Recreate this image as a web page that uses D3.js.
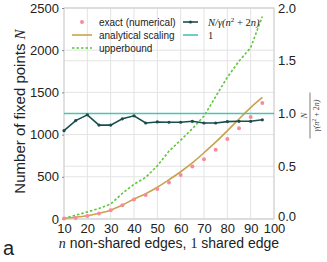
<!DOCTYPE html>
<html>
<head>
<meta charset="utf-8">
<script src="https://cdn.jsdelivr.net/npm/d3@7"></script>
<style>
  body { margin: 0; background: #fff; }
  text { font-family: "Liberation Sans", Arial, sans-serif; }
  .math { font-family: "Liberation Serif", "DejaVu Serif", serif; font-style: italic; }
</style>
</head>
<body>
<div id="plot"></div>
<script>
const margin = { top: 8, right: 53, bottom: 43, left: 64 };
const width = 327 - margin.left - margin.right;
const height = 262 - margin.top - margin.bottom;

// n non-shared edges
const nValues = [10, 15, 20, 25, 30, 35, 40, 45, 50, 55, 60, 65, 70, 75, 80, 85, 90, 95];
const exact = [5, 12, 36, 64, 104, 164, 232, 285, 355, 432, 521, 621, 709, 821, 948, 1074, 1210, 1374];
const analytical = [8, 20, 38, 68, 105, 165, 237, 300, 376, 465, 560, 665, 785, 910, 1045, 1185, 1320, 1440];
const upperbound = [5, 45, 84, 125, 177, 304, 412, 493, 630, 805, 934, 1070, 1220, 1450, 1680, 1870, 2030, 2400];
const ratio = [0.837, 0.933, 0.987, 0.89, 0.89, 0.95, 0.978, 0.91, 0.92, 0.917, 0.917, 0.926, 0.91, 0.91, 0.923, 0.926, 0.926, 0.94];

const xTicks = [10, 20, 30, 40, 50, 60, 70, 80, 90, 100];
const yTicks = [0, 500, 1000, 1500, 2000, 2500];
const y2Ticks = [0, 0.5, 1.0, 1.5, 2.0];

const colors = {
  exact: "#f98a9e",
  analytical: "#c9a24f",
  upper: "#5cc63a",
  ratio: "#184e4e",
  one: "#4cc3b3"
};

const x = d3.scaleLinear().domain([10, 100]).range([0, width]);
const y = d3.scaleLinear().domain([0, 2500]).range([height, 0]);
const y2 = d3.scaleLinear().domain([0, 2]).range([height, 0]);

const svg = d3.select("#plot")
  .append("svg")
  .attr("width", width + margin.left + margin.right)
  .attr("height", height + margin.top + margin.bottom);

const g = svg.append("g")
  .attr("transform", `translate(${margin.left},${margin.top})`);

// grid from both axes
g.append("g")
  .selectAll("line")
  .data(xTicks)
  .join("line")
  .attr("x1", d => x(d)).attr("x2", d => x(d))
  .attr("y1", 0).attr("y2", height)
  .attr("stroke", "#e3e3e3").attr("stroke-width", 1);

g.append("g")
  .selectAll("line")
  .data(yTicks)
  .join("line")
  .attr("x1", 0).attr("x2", width)
  .attr("y1", d => y(d)).attr("y2", d => y(d))
  .attr("stroke", "#e3e3e3").attr("stroke-width", 1);

g.append("g")
  .selectAll("line")
  .data(y2Ticks)
  .join("line")
  .attr("x1", 0).attr("x2", width)
  .attr("y1", d => y2(d)).attr("y2", d => y2(d))
  .attr("stroke", "#e3e3e3").attr("stroke-width", 1);

// frame
g.append("rect")
  .attr("width", width).attr("height", height)
  .attr("fill", "none").attr("stroke", "#cfcfcf").attr("stroke-width", 1);

// axes
const xAxis = g.append("g")
  .attr("transform", `translate(0,${height})`)
  .call(d3.axisBottom(x).tickValues(xTicks).tickSize(0).tickPadding(5));
const yAxis = g.append("g")
  .call(d3.axisLeft(y).tickValues(yTicks).tickFormat(d3.format("d")).tickSize(2).tickPadding(3));
const y2Axis = g.append("g")
  .attr("transform", `translate(${width},0)`)
  .call(d3.axisRight(y2).tickValues(y2Ticks).tickFormat(d3.format(".1f")).tickSize(0).tickPadding(4));

[xAxis, yAxis, y2Axis].forEach(a => {
  a.select(".domain").remove();
  a.selectAll(".tick line").attr("stroke", "#888");
  a.selectAll("text")
    .attr("fill", "#222")
    .style("font-size", "13px")
    .style("font-family", "'Liberation Sans', Arial, sans-serif");
});
// the 0.0 label sits a little above the corner, over the "100"
y2Axis.selectAll(".tick text").filter(d => d === 0).attr("dy", "0.1em");

// lines
g.append("path")
  .datum(upperbound)
  .attr("fill", "none")
  .attr("stroke", colors.upper)
  .attr("stroke-width", 1.6)
  .attr("stroke-dasharray", "2.5,2")
  .attr("d", d3.line().x((d, i) => x(nValues[i])).y(d => y(d)));

g.append("path")
  .datum(analytical)
  .attr("fill", "none")
  .attr("stroke", colors.analytical)
  .attr("stroke-width", 1.6)
  .attr("d", d3.line().curve(d3.curveMonotoneX).x((d, i) => x(nValues[i])).y(d => y(d)));

g.append("g")
  .selectAll("circle")
  .data(exact)
  .join("circle")
  .attr("cx", (d, i) => x(nValues[i]))
  .attr("cy", d => y(d))
  .attr("r", 2)
  .attr("fill", colors.exact);

g.append("line")
  .attr("x1", 0).attr("x2", width)
  .attr("y1", y2(1)).attr("y2", y2(1))
  .attr("stroke", colors.one).attr("stroke-width", 1.6);

g.append("path")
  .datum(ratio)
  .attr("fill", "none")
  .attr("stroke", colors.ratio)
  .attr("stroke-width", 1.6)
  .attr("d", d3.line().x((d, i) => x(nValues[i])).y(d => y2(d)));

g.append("g")
  .selectAll("circle")
  .data(ratio)
  .join("circle")
  .attr("cx", (d, i) => x(nValues[i]))
  .attr("cy", d => y2(d))
  .attr("r", 1.6)
  .attr("fill", colors.ratio);

// legend
const legend = g.append("g").style("font-size", "10px");
const leftItems = [
  { label: "exact (numerical)", type: "dot", color: colors.exact },
  { label: "analytical scaling", type: "line", color: colors.analytical },
  { label: "upperbound", type: "dash", color: colors.upper }
];
leftItems.forEach((it, i) => {
  const ly = 14 + i * 13;
  if (it.type === "dot") {
    legend.append("circle").attr("cx", 18).attr("cy", ly).attr("r", 2).attr("fill", it.color);
  } else {
    legend.append("line").attr("x1", 8).attr("x2", 28).attr("y1", ly).attr("y2", ly)
      .attr("stroke", it.color).attr("stroke-width", 1.6)
      .attr("stroke-dasharray", it.type === "dash" ? "2.5,2" : null);
  }
  legend.append("text").attr("x", 35).attr("y", ly + 3.5).attr("fill", "#222").text(it.label);
});

const rx = 119;
legend.append("line").attr("x1", rx).attr("x2", rx + 15).attr("y1", 14).attr("y2", 14)
  .attr("stroke", colors.ratio).attr("stroke-width", 1.6);
legend.append("circle").attr("cx", rx + 7.5).attr("cy", 14).attr("r", 1.6).attr("fill", colors.ratio);
const rt = legend.append("text").attr("x", rx + 25).attr("y", 17.5).attr("fill", "#222")
  .attr("class", "math").style("font-size", "10.5px");
rt.append("tspan").text("N/γ(n");
rt.append("tspan").attr("dy", -3.5).style("font-size", "7px").style("font-style", "normal").text("2");
rt.append("tspan").attr("dy", 3.5).style("font-style", "normal").text(" + 2");
rt.append("tspan").text("n)");

legend.append("line").attr("x1", rx).attr("x2", rx + 15).attr("y1", 27).attr("y2", 27)
  .attr("stroke", colors.one).attr("stroke-width", 1.6);
legend.append("text").attr("x", rx + 25).attr("y", 30.5).attr("fill", "#222")
  .style("font-family", "'Liberation Serif', serif").style("font-size", "10.5px").text("1");

// axis titles
const ylab = svg.append("text")
  .attr("transform", `translate(25,${margin.top + height / 2 - 2}) rotate(-90)`)
  .attr("text-anchor", "middle")
  .attr("fill", "#222")
  .style("font-size", "15px");
ylab.append("tspan").text("Number of fixed points ");
ylab.append("tspan").attr("class", "math").text("N");

const xlab = svg.append("text")
  .attr("x", margin.left + width / 2)
  .attr("y", 248)
  .attr("text-anchor", "middle")
  .attr("fill", "#222")
  .style("font-size", "14px");
xlab.append("tspan").attr("class", "math").text("n");
xlab.append("tspan").text(" non-shared edges, ");
xlab.append("tspan").style("font-family", "'Liberation Serif', serif").text("1");
xlab.append("tspan").text(" shared edge");

// right axis title: fraction
const fr = svg.append("g")
  .attr("transform", `translate(311,${margin.top + y2(1) + 2}) rotate(-90)`)
  .attr("fill", "#444");
fr.append("text").attr("class", "math").attr("text-anchor", "middle").attr("y", -4)
  .style("font-size", "9px").text("N");
fr.append("line").attr("x1", -23).attr("x2", 23).attr("y1", -1).attr("y2", -1)
  .attr("stroke", "#444").attr("stroke-width", 0.7);
const den = fr.append("text").attr("class", "math").attr("text-anchor", "middle").attr("y", 8)
  .style("font-size", "8px");
den.append("tspan").text("γ(n");
den.append("tspan").attr("dy", -3).style("font-size", "6px").style("font-style", "normal").text("2");
den.append("tspan").attr("dy", 3).style("font-style", "normal").text(" + 2");
den.append("tspan").text("n)");

// panel label
svg.append("text")
  .attr("x", 3).attr("y", 255)
  .attr("fill", "#222")
  .style("font-size", "20px")
  .text("a");
</script>
</body>
</html>
